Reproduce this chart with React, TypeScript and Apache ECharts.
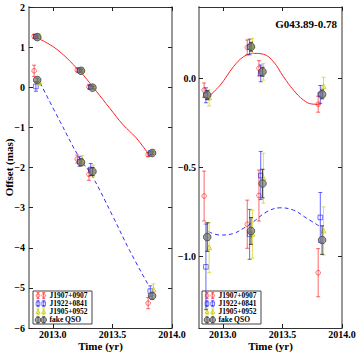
import React, { useEffect, useRef } from "react";
import * as echarts from "echarts";

// ---- Epochs (yr) per source, as plotted ----
const redEpochs = [2012.843, 2013.205, 2013.303, 2013.8];
const blueEpochs = [2012.858, 2013.225, 2013.318, 2013.818];
const yellowEpochs = [2012.885, 2013.248, 2013.34, 2013.845];
const qsoEpochs = [2012.869, 2013.236, 2013.333, 2013.833];

// ---- Left panel, upper track ----
const leftUpRed = [1.27, 0.43, 0.01, -1.68];
const leftUpRedErr = [0.05, 0.05, 0.05, 0.05];
const leftUpBlue = [1.26, 0.42, 0.0, -1.64];
const leftUpBlueErr = [0.05, 0.05, 0.05, 0.05];
const leftUpYellow = [1.27, 0.43, 0.0, -1.61];
const leftUpYellowErr = [0.06, 0.06, 0.06, 0.06];
const leftUpQso = [1.25, 0.41, -0.01, -1.64];
const leftUpQsoErr = [0.03, 0.03, 0.03, 0.03];

// ---- Left panel, lower track ----
const leftLoRed = [0.41, -1.79, -2.17, -5.38];
const leftLoRedErr = [0.14, 0.1, 0.15, 0.14];
const leftLoBlue = [0.02, -1.85, -2.05, -5.08];
const leftLoBlueErr = [0.12, 0.12, 0.15, 0.13];
const leftLoYellow = [0.12, -1.83, -2.08, -5.05];
const leftLoYellowErr = [0.08, 0.13, 0.14, 0.15];
const leftLoQso = [0.18, -1.87, -2.1, -5.2];
const leftLoQsoErr = [0.05, 0.08, 0.1, 0.08];

// ---- Right panel, upper track ----
const rightUpRed = [-0.066, 0.173, 0.056, -0.145];
const rightUpRedErr = [0.04, 0.042, 0.043, 0.045];
const rightUpBlue = [-0.095, 0.176, 0.028, -0.09];
const rightUpBlueErr = [0.042, 0.044, 0.047, 0.05];
const rightUpYellow = [-0.11, 0.182, 0.037, -0.047];
const rightUpYellowErr = [0.045, 0.042, 0.047, 0.053];
const rightUpQso = [-0.094, 0.177, 0.037, -0.09];
const rightUpQsoErr = [0.025, 0.025, 0.025, 0.025];

// ---- Right panel, lower track ----
const rightLoRed = [-0.66, -0.818, -0.657, -1.09];
const rightLoRedErr = [0.14, 0.135, 0.143, 0.135];
const rightLoBlue = [-1.057, -0.875, -0.545, -0.78];
const rightLoBlueErr = [0.24, 0.14, 0.135, 0.14];
const rightLoYellow = [-0.95, -0.874, -0.56, -0.856];
const rightLoYellowErr = [0.14, 0.135, 0.14, 0.135];
const rightLoQso = [-0.89, -0.856, -0.59, -0.907];
const rightLoQsoErr = [0.08, 0.075, 0.08, 0.08];

// ---- Model curves ----
const leftRedCurveT = [2012.838, 2012.977, 2013.088, 2013.199, 2013.254, 2013.365, 2013.477, 2013.588, 2013.699, 2013.796];
const leftRedCurveV = [1.27, 1.06, 0.81, 0.48, 0.31, -0.1, -0.52, -0.93, -1.26, -1.64];
const leftBlueCurveT = [2012.893, 2013.06, 2013.227, 2013.324, 2013.504, 2013.643, 2013.8];
const leftBlueCurveV = [0.11, -0.85, -1.78, -2.18, -3.22, -4.06, -4.92];
const rightRedCurveT = [2012.866, 2012.978, 2013.089, 2013.173, 2013.257, 2013.341, 2013.425, 2013.509, 2013.593, 2013.677, 2013.747, 2013.818];
const rightRedCurveV = [-0.112, -0.038, 0.065, 0.121, 0.14, 0.135, 0.093, 0.009, -0.066, -0.122, -0.144, -0.146];
const rightBlueCurveT = [2012.88, 2012.978, 2013.089, 2013.173, 2013.257, 2013.37, 2013.481, 2013.593, 2013.705, 2013.818];
const rightBlueCurveV = [-0.86, -0.879, -0.87, -0.841, -0.804, -0.748, -0.726, -0.739, -0.785, -0.832];

// ---- Axes ticks / text ----
const xTicks = [2013.0, 2013.5, 2014.0];
const leftYTicks = [-6, -5, -4, -3, -2, -1, 0, 1, 2];
const rightYTicks = [-1.0, -0.5, 0.0];
const sourceNames = ["J1907+0907", "J1922+0841", "J1905+0952", "fake QSO"];
const panelTitle = "G043.89-0.78";
const xName = "Time (yr)";
const yName = "Offset (mas)";

const FONT = "'Liberation Serif', 'DejaVu Serif', serif";

type Sty = { color: string; fill: string; marker: string; size: number; bar: string };
const styles: Sty[] = [
  { color: "rgba(255,0,0,0.55)", fill: "none", marker: "circle", size: 2.3, bar: "rgba(255,0,0,0.6)" },
  { color: "rgba(0,0,255,0.55)", fill: "none", marker: "square", size: 2.3, bar: "rgba(0,0,255,0.6)" },
  { color: "rgba(200,200,0,0.7)", fill: "rgba(220,220,0,0.3)", marker: "triangle", size: 2.5, bar: "rgba(210,210,0,0.7)" },
  { color: "rgba(70,70,70,0.8)", fill: "rgba(120,120,120,0.68)", marker: "circle", size: 3.8, bar: "rgba(40,40,40,0.85)" },
];

function markerEl(s: Sty, cx: number, cy: number, sc = 1) {
  const r = s.size * sc;
  const style = { fill: s.fill, stroke: s.color, lineWidth: 1 };
  if (s.marker === "square") return { type: "rect", shape: { x: cx - r, y: cy - r, width: 2 * r, height: 2 * r }, style };
  if (s.marker === "triangle")
    return { type: "polygon", shape: { points: [[cx, cy - r * 1.2], [cx - r, cy + r * 0.8], [cx + r, cy + r * 0.8]] }, style };
  return { type: "circle", shape: { cx, cy, r }, style };
}

function errRender(s: Sty) {
  return (params: any, api: any) => {
    const x = api.value(0), y = api.value(1), e = api.value(2);
    const p = api.coord([x, y]);
    const t = api.coord([x, y + e]);
    const b = api.coord([x, y - e]);
    const cap = 2;
    const ls = { stroke: s.bar, lineWidth: 1 };
    return {
      type: "group",
      children: [
        { type: "line", shape: { x1: p[0], y1: t[1], x2: p[0], y2: b[1] }, style: ls },
        { type: "line", shape: { x1: p[0] - cap, y1: t[1], x2: p[0] + cap, y2: t[1] }, style: ls },
        { type: "line", shape: { x1: p[0] - cap, y1: b[1], x2: p[0] + cap, y2: b[1] }, style: ls },
        markerEl(s, p[0], p[1]),
      ],
    };
  };
}

function errSeries(idx: number, epochs: number[], vals: number[], errs: number[], si: number) {
  return {
    type: "custom",
    xAxisIndex: idx,
    yAxisIndex: idx,
    renderItem: errRender(styles[si]),
    encode: { x: 0, y: 1 },
    data: epochs.map((t, i) => [t, vals[i], errs[i]]),
    z: 3 + si,
    clip: true,
  };
}

function curveSeries(idx: number, ts: number[], vs: number[], color: string, dashed: boolean) {
  return {
    type: "line",
    xAxisIndex: idx,
    yAxisIndex: idx,
    data: ts.map((t, i) => [t, vs[i]]),
    smooth: 0.4,
    showSymbol: false,
    lineStyle: { color, width: 1, type: dashed ? [4, 3] : "solid" },
    z: 2,
  };
}

function legendGraphic(x0: number, y0: number) {
  const children: any[] = [
    { type: "rect", shape: { x: 0, y: 0, width: 59, height: 33 }, style: { fill: "#fff", stroke: "#444", lineWidth: 1 } },
  ];
  sourceNames.forEach((name, i) => {
    const cy = 4.6 + i * 8.1;
    const s = styles[i];
    [5, 10.7].forEach((cx) => {
      const ls = { stroke: s.bar, lineWidth: 1 };
      children.push({ type: "line", shape: { x1: cx, y1: cy - 3, x2: cx, y2: cy + 3 }, style: ls });
      children.push({ type: "line", shape: { x1: cx - 1.5, y1: cy - 3, x2: cx + 1.5, y2: cy - 3 }, style: ls });
      children.push({ type: "line", shape: { x1: cx - 1.5, y1: cy + 3, x2: cx + 1.5, y2: cy + 3 }, style: ls });
      children.push(markerEl(s, cx, cy, i === 3 ? 0.75 : 0.8));
    });
    children.push({
      type: "text",
      x: 16.5,
      y: cy,
      style: { text: name, font: `bold 7.5px ${FONT}`, fill: "#000", verticalAlign: "middle", align: "left" },
    });
  });
  return { type: "group", x: x0, y: y0, z: 100, children };
}

const minus = (s: string) => s.replace("-", "\u2212");

function xAxis(gridIndex: number, position: string, labels: boolean) {
  return {
    type: "value",
    gridIndex,
    position,
    min: 2012.8,
    max: 2014.0,
    axisLine: { show: true, onZero: false, lineStyle: { color: "#333", width: 1 } },
    axisTick: { show: true, inside: true, length: 4, customValues: xTicks, lineStyle: { color: "#222" } },
    axisLabel: {
      show: labels,
      customValues: xTicks,
      formatter: (v: number) => v.toFixed(1),
      fontFamily: FONT,
      fontWeight: "bold",
      fontSize: 10,
      color: "#000",
      margin: 1,
    },
    splitLine: { show: false },
    name: labels ? xName : "",
    nameLocation: "middle",
    nameGap: 12,
    nameMoveOverlap: false,
    nameTextStyle: { fontFamily: FONT, fontWeight: "bold", fontSize: 11, color: "#000" },
  };
}

function yAxis(gridIndex: number, position: string, labels: boolean, right: boolean) {
  const base: any = {
    type: "value",
    gridIndex,
    position,
    axisLine: { show: true, onZero: false, lineStyle: { color: "#999", width: 2 } },
    splitLine: { show: false },
  };
  if (!right) {
    return {
      ...base,
      min: -6,
      max: 2,
      axisTick: { show: true, inside: true, length: 4, customValues: leftYTicks, lineStyle: { color: "#222" } },
      axisLabel: {
        show: labels,
        customValues: leftYTicks,
        formatter: (v: number) => minus(String(v)),
        fontFamily: FONT,
        fontWeight: "bold",
        fontSize: 10,
        color: "#000",
        margin: 4,
      },
      name: labels ? yName : "",
      nameLocation: "middle",
      nameRotate: 90,
      nameGap: 15,
      nameMoveOverlap: false,
      nameTextStyle: { fontFamily: FONT, fontWeight: "bold", fontSize: 11, color: "#000" },
    };
  }
  return {
    ...base,
    min: -1.4,
    max: 0.4,
    axisTick: { show: true, inside: true, length: 4, customValues: rightYTicks, lineStyle: { color: "#222" } },
    axisLabel: {
      show: labels,
      customValues: rightYTicks,
      formatter: (v: number) => minus(v.toFixed(1)),
      fontFamily: FONT,
      fontWeight: "bold",
      fontSize: 10,
      color: "#000",
      margin: 3,
    },
  };
}

export default function App() {
  const ref = useRef<HTMLDivElement>(null);
  useEffect(() => {
    if (!ref.current) return;
    const chart = echarts.init(ref.current, null, { renderer: "svg" });
    const series: any[] = [
      curveSeries(0, leftRedCurveT, leftRedCurveV, "#ff2020", false),
      curveSeries(0, leftBlueCurveT, leftBlueCurveV, "#3030ff", true),
      curveSeries(1, rightRedCurveT, rightRedCurveV, "#ff2020", false),
      curveSeries(1, rightBlueCurveT, rightBlueCurveV, "#3030ff", true),
      errSeries(0, redEpochs, leftUpRed, leftUpRedErr, 0),
      errSeries(0, blueEpochs, leftUpBlue, leftUpBlueErr, 1),
      errSeries(0, yellowEpochs, leftUpYellow, leftUpYellowErr, 2),
      errSeries(0, qsoEpochs, leftUpQso, leftUpQsoErr, 3),
      errSeries(0, redEpochs, leftLoRed, leftLoRedErr, 0),
      errSeries(0, blueEpochs, leftLoBlue, leftLoBlueErr, 1),
      errSeries(0, yellowEpochs, leftLoYellow, leftLoYellowErr, 2),
      errSeries(0, qsoEpochs, leftLoQso, leftLoQsoErr, 3),
      errSeries(1, redEpochs, rightUpRed, rightUpRedErr, 0),
      errSeries(1, blueEpochs, rightUpBlue, rightUpBlueErr, 1),
      errSeries(1, yellowEpochs, rightUpYellow, rightUpYellowErr, 2),
      errSeries(1, qsoEpochs, rightUpQso, rightUpQsoErr, 3),
      errSeries(1, redEpochs, rightLoRed, rightLoRedErr, 0),
      errSeries(1, blueEpochs, rightLoBlue, rightLoBlueErr, 1),
      errSeries(1, yellowEpochs, rightLoYellow, rightLoYellowErr, 2),
      errSeries(1, qsoEpochs, rightLoQso, rightLoQsoErr, 3),
    ];
    chart.setOption({
      animation: false,
      backgroundColor: "#fff",
      grid: [
        { left: 29, top: 7, width: 143, height: 321, outerBoundsMode: "none", containLabel: false },
        { left: 199, top: 7, width: 143, height: 321, outerBoundsMode: "none", containLabel: false },
      ],
      xAxis: [xAxis(0, "bottom", true), xAxis(1, "bottom", true), xAxis(0, "top", false), xAxis(1, "top", false)],
      yAxis: [yAxis(0, "left", true, false), yAxis(1, "left", true, true), yAxis(0, "right", false, false), yAxis(1, "right", false, true)],
      series,
      graphic: [
        legendGraphic(33, 291),
        legendGraphic(202, 291),
        {
          type: "text",
          right: 24,
          top: 18,
          z: 100,
          style: { text: panelTitle, font: `bold 11px ${FONT}`, fill: "#000" },
        },
      ],
    });
    return () => chart.dispose();
  }, []);
  return <div ref={ref} style={{ position: "fixed", left: 0, top: 0, width: 361, height: 354 }} />;
}
